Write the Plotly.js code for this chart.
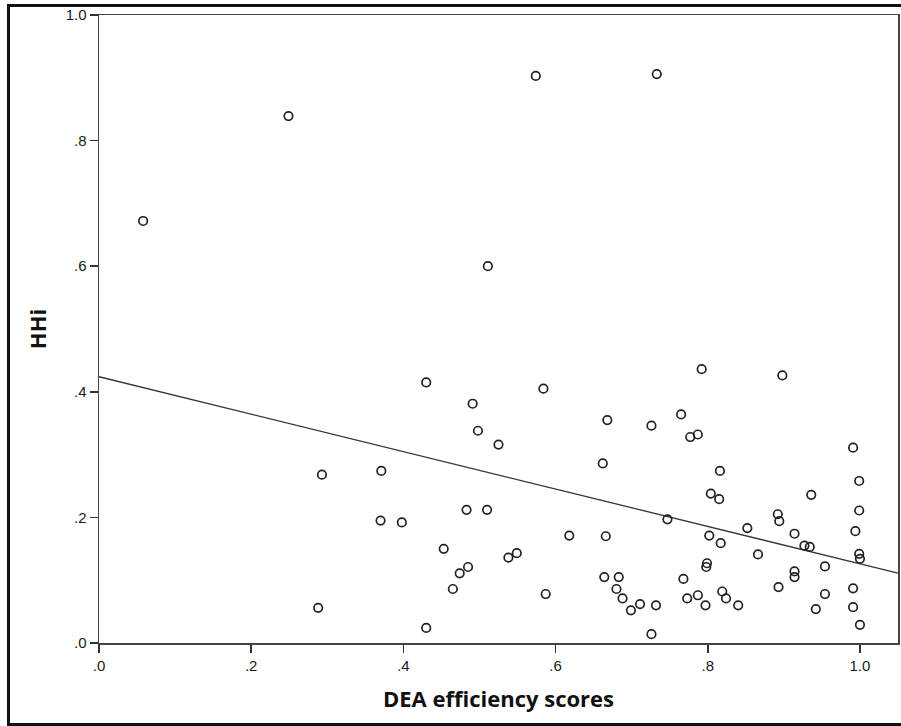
<!DOCTYPE html>
<html>
<head>
<meta charset="utf-8">
<script src="https://cdn.plot.ly/plotly-3.0.1.min.js"></script>
<style>
  html, body { margin: 0; padding: 0; background: #fff; overflow: hidden; }
  #chart { position: absolute; left: 0; top: 0; width: 901px; height: 726px; }
  #frame { position: absolute; left: 7px; top: 4px; width: 920px; height: 716px;
           border: 3px solid #111; pointer-events: none; }
</style>
</head>
<body>
<div id="chart"></div>
<div id="frame"></div>
<script>
// DEA efficiency scores (x) and HHi (y)
const deaScores = [
  0.058, 0.249, 0.574, 0.733, 0.511, 0.293, 0.288, 0.371, 0.370, 0.398,
  0.430, 0.430, 0.453, 0.465, 0.474, 0.485, 0.483, 0.491, 0.498, 0.510,
  0.525, 0.538, 0.549, 0.584, 0.587, 0.618, 0.662, 0.668, 0.666, 0.664,
  0.683, 0.680, 0.688, 0.699, 0.711, 0.726, 0.732, 0.726, 0.747, 0.765,
  0.768, 0.773, 0.777, 0.787, 0.787, 0.792, 0.797, 0.802, 0.799, 0.798,
  0.804, 0.815, 0.816, 0.819, 0.817, 0.824, 0.840, 0.852, 0.866, 0.892,
  0.894, 0.893, 0.898, 0.914, 0.914, 0.914, 0.927, 0.934, 0.936, 0.942,
  0.954, 0.954, 0.991, 0.994, 0.991, 0.991, 0.999, 0.999, 0.999, 1.000,
  1.000
];
const hhiValues = [
  0.672, 0.839, 0.903, 0.906, 0.600, 0.268, 0.056, 0.274, 0.195, 0.192,
  0.415, 0.024, 0.150, 0.086, 0.111, 0.121, 0.212, 0.381, 0.338, 0.212,
  0.316, 0.136, 0.143, 0.405, 0.078, 0.171, 0.286, 0.355, 0.170, 0.105,
  0.105, 0.086, 0.071, 0.052, 0.062, 0.014, 0.060, 0.346, 0.197, 0.364,
  0.102, 0.071, 0.328, 0.332, 0.076, 0.436, 0.060, 0.171, 0.127, 0.121,
  0.238, 0.229, 0.274, 0.082, 0.159, 0.071, 0.060, 0.183, 0.141, 0.205,
  0.194, 0.089, 0.426, 0.174, 0.114, 0.105, 0.155, 0.153, 0.236, 0.054,
  0.122, 0.078, 0.311, 0.178, 0.087, 0.057, 0.258, 0.211, 0.142, 0.134,
  0.029
];
// Fit line (linear)
const fitIntercept = 0.424;
const fitSlope = -0.298;
const fitX = [0, 1.05];
const fitY = fitX.map(v => fitIntercept + fitSlope * v);

const tickVals = [0, 0.2, 0.4, 0.6, 0.8, 1.0];
const tickText = ['.0', '.2', '.4', '.6', '.8', '1.0'];

const axisFont = { family: 'Liberation Sans, Arial, sans-serif', size: 15, color: '#1a1a1a' };
const titleFont = { family: 'Open Sans, Liberation Sans, sans-serif', size: 22, color: '#111', weight: 'bold' };

const traces = [
  {
    x: fitX, y: fitY, type: 'scatter', mode: 'lines',
    line: { color: '#333', width: 1.3 }, hoverinfo: 'skip', showlegend: false
  },
  {
    x: deaScores, y: hhiValues, type: 'scatter', mode: 'markers',
    marker: { symbol: 'circle-open', size: 8.5, color: '#222', line: { width: 1.7, color: '#222' } },
    showlegend: false
  }
];

const layout = {
  width: 901, height: 726,
  margin: { l: 99, r: 3, t: 15, b: 83 },
  paper_bgcolor: '#fff', plot_bgcolor: '#fff',
  showlegend: false,
  xaxis: {
    range: [0, 1.05], tickvals: tickVals, ticktext: tickText,
    ticks: 'outside', ticklen: 8, tickwidth: 1.5, tickcolor: '#333',
    showgrid: false, zeroline: false,
    showline: true, linecolor: '#444', linewidth: 1.5, mirror: true,
    tickfont: axisFont,
    title: { text: 'DEA efficiency scores', font: titleFont, standoff: 19 }
  },
  yaxis: {
    range: [0, 1], tickvals: tickVals, ticktext: tickText,
    ticks: 'outside', ticklen: 8, tickwidth: 1.5, tickcolor: '#333',
    showgrid: false, zeroline: false,
    showline: true, linecolor: '#444', linewidth: 1.5, mirror: true,
    tickfont: axisFont,
    title: { text: 'HHi', font: titleFont, standoff: 13 }
  }
};

Plotly.newPlot('chart', traces, layout, { displayModeBar: false, staticPlot: true });
</script>
</body>
</html>
